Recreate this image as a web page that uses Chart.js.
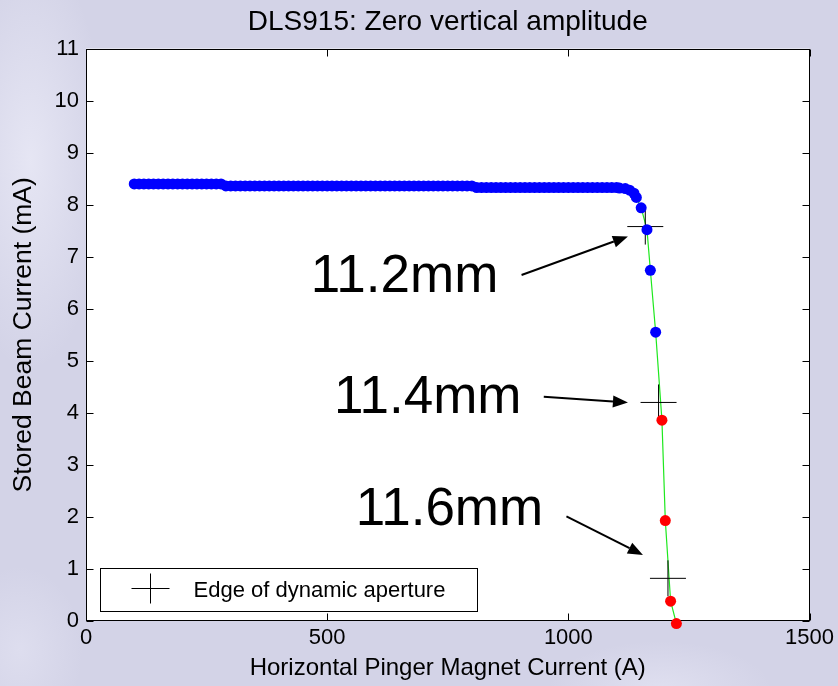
<!DOCTYPE html>
<html>
<head>
<meta charset="utf-8">
<script src="https://cdn.jsdelivr.net/npm/chart.js@4.4.1/dist/chart.umd.min.js"></script>
<style>
html,body{margin:0;padding:0;}
body{
width:838px;height:686px;overflow:hidden;
background:
radial-gradient(ellipse 110px 300px at 30px 160px, rgba(236,236,248,0.75), rgba(236,236,248,0) 70%),
radial-gradient(ellipse 160px 70px at 660px 690px, rgba(232,232,246,0.6), rgba(232,232,246,0) 70%),
radial-gradient(ellipse 90px 120px at 20px 650px, rgba(232,232,246,0.5), rgba(232,232,246,0) 70%),
#d3d3e7;
}
canvas{display:block;}
</style>
</head>
<body>
<canvas id="beamChart" width="838" height="686"></canvas>
<script>

// stored beam while the pinger current is stepped up (A, mA)
const scanCurrent = [
100,110,120,130,140,150,160,170,180,190,200,210,220,230,240,250,260,270,280,
290,300,310,320,330,340,350,360,370,380,390,400,410,420,430,440,450,460,470,480,490,
500,510,520,530,540,550,560,570,580,590,600,610,620,630,640,650,660,670,680,690,
700,710,720,730,740,750,760,770,780,790,800,
810,820,830,840,850,860,870,880,890,900,910,920,930,940,950,960,970,980,990,
1000,1010,1020,1030,1040,1050,1060,1070,1080,1090,1100,
1106,1118,1127,1136,1141,1151,1163,1170,1181
];
const scanBeam = [
8.40,8.40,8.40,8.40,8.40,8.40,8.40,8.40,8.40,8.40,8.40,8.40,8.40,8.40,8.40,8.40,8.40,8.40,8.40,
8.36,8.36,8.36,8.36,8.36,8.36,8.36,8.36,8.36,8.36,8.36,8.36,8.36,8.36,8.36,8.36,8.36,8.36,8.36,8.36,8.36,
8.36,8.36,8.36,8.36,8.36,8.36,8.36,8.36,8.36,8.36,8.36,8.36,8.36,8.36,8.36,8.36,8.36,8.36,8.36,8.36,
8.36,8.36,8.36,8.36,8.36,8.36,8.36,8.36,8.36,8.36,8.36,
8.33,8.33,8.33,8.33,8.33,8.33,8.33,8.33,8.33,8.33,8.33,8.33,8.33,8.33,8.33,8.33,8.33,8.33,8.33,
8.33,8.33,8.33,8.33,8.33,8.33,8.33,8.33,8.33,8.33,8.33,
8.32,8.31,8.28,8.22,8.14,7.94,7.52,6.74,5.55
];

// points where most of the beam is lost
const lossCurrent = [1194,1201,1212,1224];
const lossBeam = [3.86,1.93,0.38,-0.05];

// edge of dynamic aperture
const edgeCurrent = [1159.5,1187,1206.5];
const edgeBeam = [7.58,4.20,0.82];
const edgeLabels = ["11.2mm","11.4mm","11.6mm"];

const xTicks = [0,500,1000,1500];
const yTicks = [0,1,2,3,4,5,6,7,8,9,10,11];

const FONT = "'Liberation Sans', Arial, Helvetica, sans-serif";

const pts = (xs, ys) => xs.map((x, i) => ({x: x, y: ys[i]}));

// where the aperture labels and arrows sit, in axis units
const notePlaces = [
{tx: 466, ty: 6.33, from: [903, 6.65], to: [1123.5, 7.39]},
{tx: 514, ty: 4.00, from: [949, 4.31], to: [1123.5, 4.20]},
{tx: 559, ty: 1.85, from: [996, 2.01], to: [1154.6, 1.27]}
];

// white plot area
const plotBg = {
id: "plotBg",
beforeDraw(chart){
const {ctx, chartArea: a} = chart;
ctx.save();
ctx.fillStyle = "#ffffff";
ctx.fillRect(a.left, a.top, a.right - a.left, a.bottom - a.top);
ctx.restore();
}
};

// box round the axes with inward tick marks on all sides
const frame = {
id: "frame",
beforeDatasetsDraw(chart){
const {ctx, chartArea: a, scales} = chart;
const L = Math.round(a.left) + 0.5, R = Math.round(a.right) - 0.5;
const T = Math.round(a.top) + 0.5, B = Math.round(a.bottom) - 0.5;
const len = 7;
ctx.save();
ctx.strokeStyle = "#000";
ctx.lineWidth = 1;
ctx.strokeRect(L, T, R - L, B - T);
ctx.beginPath();
scales.x.ticks.forEach(t=>{
const px = Math.round(scales.x.getPixelForValue(t.value)) + 0.5;
ctx.moveTo(px, B); ctx.lineTo(px, B - len);
ctx.moveTo(px, T); ctx.lineTo(px, T + len);
});
scales.y.ticks.forEach(t=>{
const py = Math.round(scales.y.getPixelForValue(t.value)) + 0.5;
ctx.moveTo(L, py); ctx.lineTo(L + len, py);
ctx.moveTo(R, py); ctx.lineTo(R - len, py);
});
ctx.stroke();
ctx.restore();
}
};

function arrow(ctx, x0, y0, x1, y1){
const ang = Math.atan2(y1 - y0, x1 - x0);
const hl = 15, hw = 6;
const bx = x1 - hl * Math.cos(ang), by = y1 - hl * Math.sin(ang);
ctx.beginPath();
ctx.moveTo(x0, y0);
ctx.lineTo(bx, by);
ctx.stroke();
ctx.beginPath();
ctx.moveTo(x1, y1);
ctx.lineTo(bx + hw * Math.sin(ang), by - hw * Math.cos(ang));
ctx.lineTo(bx - hw * Math.sin(ang), by + hw * Math.cos(ang));
ctx.closePath();
ctx.fill();
}

// aperture labels, arrows and the legend box
const notes = {
id: "notes",
afterDatasetsDraw(chart){
const {ctx, chartArea: a, scales: {x, y}} = chart;
ctx.save();
ctx.fillStyle = "#000";
ctx.strokeStyle = "#000";
ctx.font = "53px " + FONT;
ctx.textAlign = "left";
ctx.textBaseline = "alphabetic";
notePlaces.forEach((n, i)=>{
ctx.fillText(edgeLabels[i], x.getPixelForValue(n.tx), y.getPixelForValue(n.ty));
ctx.lineWidth = 2;
arrow(ctx,
x.getPixelForValue(n.from[0]), y.getPixelForValue(n.from[1]),
x.getPixelForValue(n.to[0]), y.getPixelForValue(n.to[1]));
});

const bl = Math.round(a.left) + 14.5, bb = Math.round(a.bottom) - 9.5;
const bw = 377, bh = 43, bt = bb - bh;
ctx.fillStyle = "#fff";
ctx.fillRect(bl, bt, bw, bh);
ctx.lineWidth = 1;
ctx.strokeRect(bl, bt, bw, bh);
const cx = bl + 50, cy = bt + 20;
ctx.beginPath();
ctx.moveTo(cx - 19, cy); ctx.lineTo(cx + 19, cy);
ctx.moveTo(cx, cy - 15); ctx.lineTo(cx, cy + 15);
ctx.stroke();
ctx.fillStyle = "#000";
ctx.font = "22px " + FONT;
ctx.textBaseline = "middle";
ctx.fillText("Edge of dynamic aperture", bl + 93, bt + 22);
ctx.restore();
}
};

const ctx = document.getElementById("beamChart");

new Chart(ctx,{
type:"scatter",
data:{
datasets:[
{
label:"trend",
type:"line",
data: pts(scanCurrent.concat(lossCurrent), scanBeam.concat(lossBeam)),
borderColor:"#1ee81e",
borderWidth:1.2,
pointRadius:0,
fill:false,
tension:0,
clip:false,
order:3
},
{
label:"Edge of dynamic aperture",
data: pts(edgeCurrent, edgeBeam),
pointStyle:"cross",
pointRadius:18,
borderColor:"#000",
borderWidth:1,
order:2
},
{
label:"stored",
data: pts(scanCurrent, scanBeam),
backgroundColor:"#0000ff",
borderWidth:0,
pointRadius:5.5,
order:1
},
{
label:"lost",
data: pts(lossCurrent, lossBeam),
backgroundColor:"#ff0000",
borderWidth:0,
pointRadius:5.5,
clip:false,
order:0
}
]
},
options:{
responsive:false,
animation:false,
events:[],
layout:{padding:{top:0,right:28,bottom:0,left:0}},
plugins:{
legend:{display:false},
tooltip:{enabled:false},
title:{
display:true,
fullSize:false,
text:"DLS915: Zero vertical amplitude",
color:"#000",
font:{family:FONT,size:28,weight:"normal"},
padding:{top:5,bottom:10}
}
},
scales:{
x:{
type:"linear",
min:0,
max:1500,
grid:{display:false,drawTicks:false},
border:{display:false},
afterBuildTicks(s){ s.ticks = xTicks.map(v=>({value:v})); },
afterFit(s){ s.height = 65; },
ticks:{
color:"#000",
padding:4,
maxRotation:0,
font:{family:FONT,size:22},
callback:v=>String(v)
},
title:{
display:true,
text:"Horizontal Pinger Magnet Current (A)",
color:"#000",
font:{family:FONT,size:24},
padding:{top:0,bottom:3}
}
},
y:{
type:"linear",
min:0,
max:11,
grid:{display:false,drawTicks:false},
border:{display:false},
afterBuildTicks(s){ s.ticks = yTicks.map(v=>({value:v})); },
afterFit(s){ s.width = 86; },
ticks:{
color:"#000",
padding:7,
font:{family:FONT,size:22},
callback:v=>String(v)
},
title:{
display:true,
text:"Stored Beam Current (mA)",
color:"#000",
font:{family:FONT,size:26.5},
padding:{top:8,bottom:0}
}
}
}
},
plugins:[plotBg, frame, notes]
});

</script>
</body>
</html>
